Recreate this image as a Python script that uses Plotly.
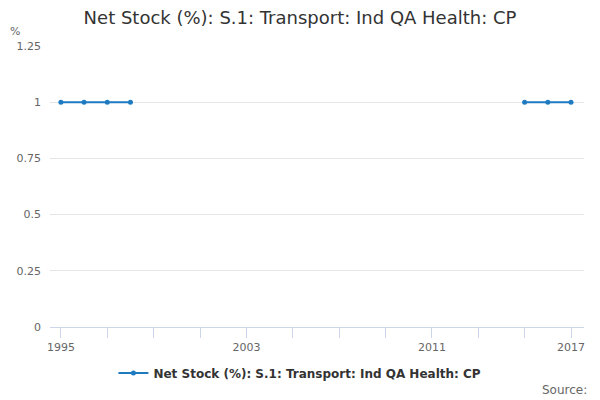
import plotly.graph_objects as go

years = list(range(1995, 2018))
values = [1, 1, 1, 1] + [None] * 16 + [1, 1, 1]
tick_years = list(range(1995, 2018, 2))
tick_labels = ["1995", "", "", "", "2003", "", "", "", "2011", "", "", "2017"]
y_ticks = [0, 0.25, 0.5, 0.75, 1, 1.25]
y_tick_labels = ["0", "0.25", "0.5", "0.75", "1", "1.25"]
series_name = "Net Stock (%): S.1: Transport: Ind QA Health: CP"

color = "#1f7bc1"
fig = go.Figure()
fig.add_trace(go.Scatter(
    x=years, y=values, mode="lines+markers", name=series_name,
    line=dict(color=color, width=2), marker=dict(color=color, size=5),
    connectgaps=False, showlegend=True,
))

fig.update_layout(
    width=600, height=400,
    margin=dict(l=50, r=16, t=46, b=73, autoexpand=False),
    paper_bgcolor="white", plot_bgcolor="white",
    font=dict(family="DejaVu Sans", color="#666666", size=11),
    title=dict(text=series_name, x=0.5, xanchor="center", y=0.955, yanchor="middle",
               font=dict(size=18, color="#333333")),
    xaxis=dict(range=[1994.53, 2017.56], tickmode="array", tickvals=tick_years,
               ticktext=tick_labels, ticks="outside", ticklen=10, tickcolor="#ccd6eb",
               showline=True, linecolor="#ccd6eb", linewidth=1, showgrid=False,
               zeroline=False, tickfont=dict(size=11, color="#666666")),
    yaxis=dict(range=[0, 1.25], tickmode="array", tickvals=y_ticks, ticktext=y_tick_labels,
               showgrid=True, gridcolor="#e6e6e6", zeroline=False, ticks="",
               ticklabelstandoff=8, tickfont=dict(size=11, color="#666666")),
    legend=dict(orientation="h", x=0.468, xanchor="center", y=-0.164, yanchor="middle",
                font=dict(size=12, color="#333333", weight="bold")),
    annotations=[
        dict(text="%", xref="paper", yref="paper", x=-0.078, y=1.053, xanchor="left",
             yanchor="middle", showarrow=False, font=dict(size=11, color="#666666")),
        dict(text="Source:", xref="paper", yref="paper", x=1.01, y=-0.224,
             xanchor="right", yanchor="middle", showarrow=False,
             font=dict(size=12, color="#666666")),
    ],
)

fig.write_html("out.html", config={"displayModeBar": False},
               post_script="document.body.style.margin='0';")
